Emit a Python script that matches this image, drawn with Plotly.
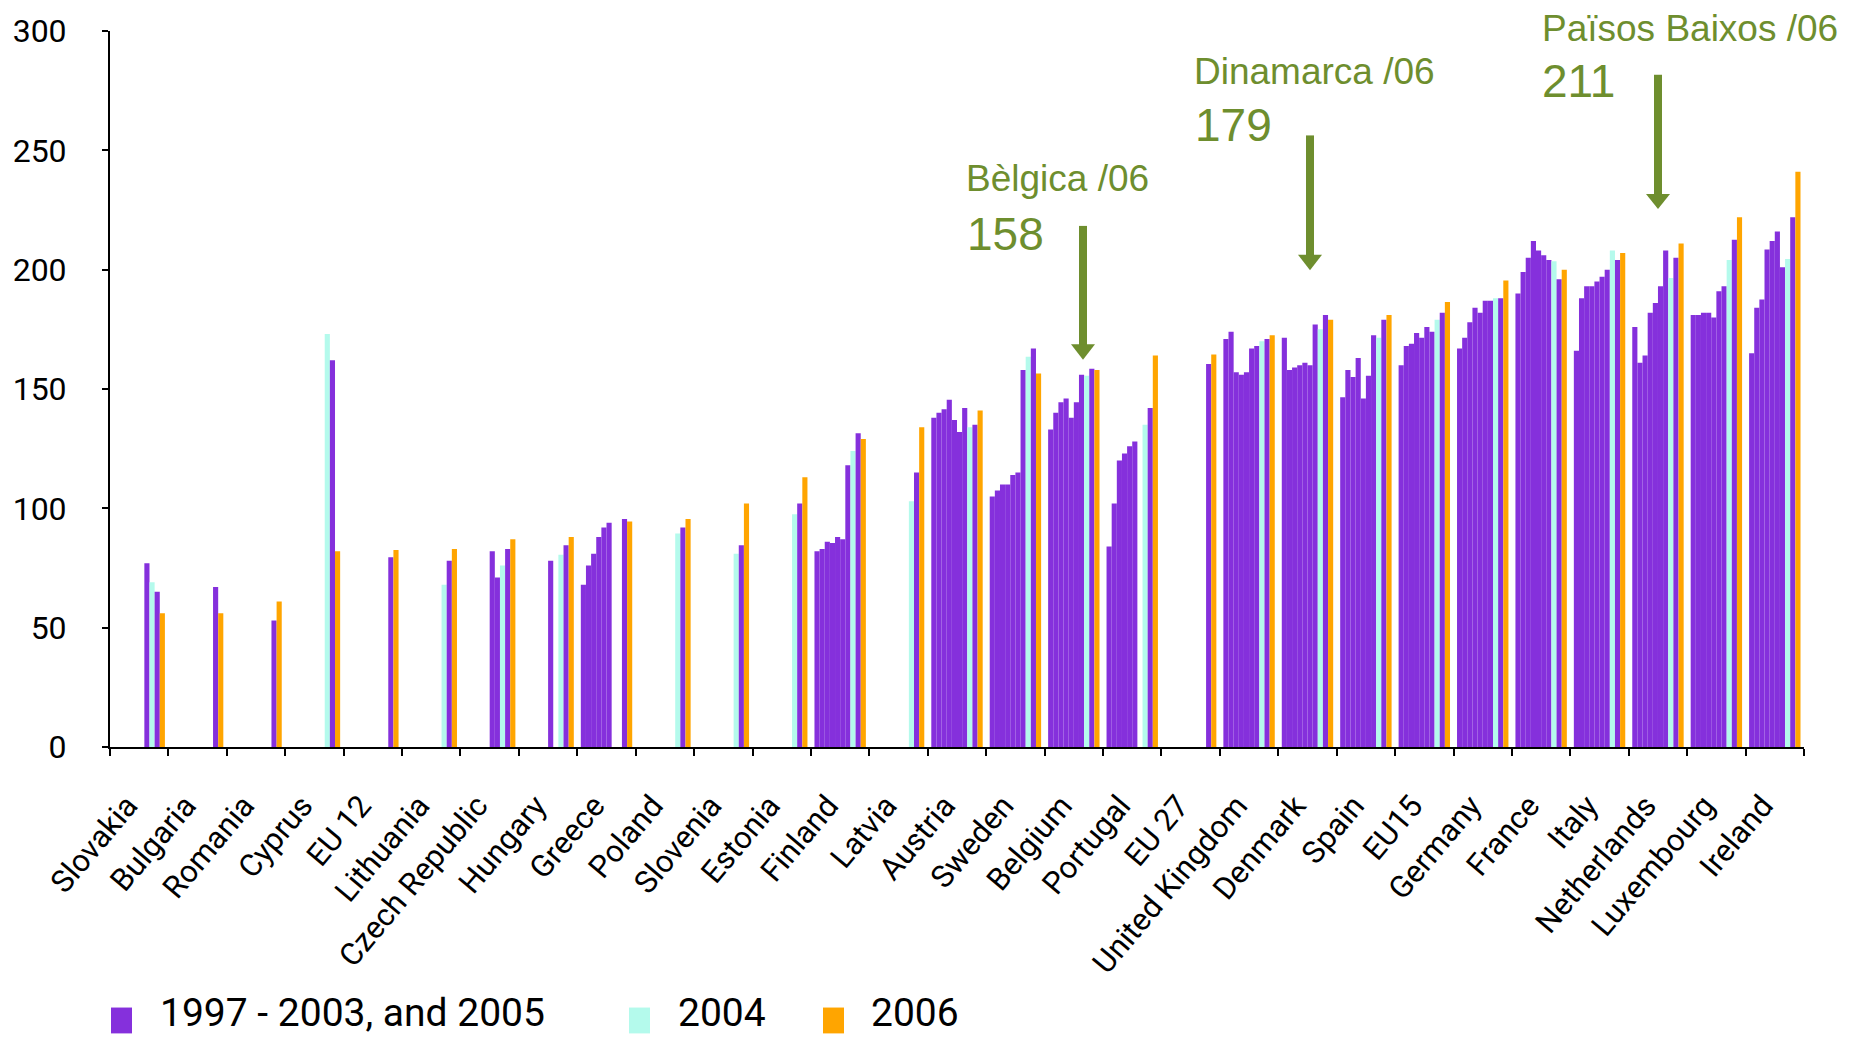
import plotly.graph_objects as go

countries = ["Slovakia", "Bulgaria", "Romania", "Cyprus", "EU 12", "Lithuania",
             "Czech Republic", "Hungary", "Greece", "Poland", "Slovenia", "Estonia",
             "Finland", "Latvia", "Austria", "Sweden", "Belgium", "Portugal", "EU 27",
             "United Kingdom", "Denmark", "Spain", "EU15", "Germany", "France", "Italy",
             "Netherlands", "Luxembourg", "Ireland"]

N = None
y1997 = [N, N, N, N, N, N, N, N, 68, N, N, N, 82, N, 138, 105, 133, 84, N, 171, 171.5, 146.5, 160, 167, 190, 166, 176, 181, 165]
y1998 = [N, N, N, N, N, N, N, N, 76, N, N, N, 83, N, 140, 107.5, 140, 102, N, 174, 158, 158, 168, 171.5, 199, 188, 161, 181, 184]
y1999 = [N, N, N, N, N, N, N, N, 81, N, N, N, 86, N, 141.5, 110, 144.5, 120, N, 157, 159, 155, 169, 178, 205, 193, 164, 182, 187.5]
y2000 = [N, N, N, N, N, N, N, N, 88, N, N, N, 85.5, N, 145.5, 110, 146, 123, N, 156, 160, 163, 173.5, 184, 212, 193, 182, 182, 208.5]
y2001 = [N, N, N, N, N, N, N, N, 92, N, N, N, 88, N, 137, 114, 138, 126, N, 157, 161, 146, 171.5, 182, 208, 195, 186, 180, 212]
y2002 = [N, N, N, N, N, N, 82, 78, 94, N, N, N, 87, N, 132, 115, 144.5, 128, N, 167, 160, 155.5, 176, 187, 206, 197, 193, 191, 216]
y2003 = [77, N, N, N, N, N, 71, N, N, N, N, N, 118, N, 142, 158, 156, N, N, 168, 177, 172.5, 174, 187, 204, 200, 208, 193, 201]
y2004 = [69, N, N, 173, N, 68, 76, 80.5, N, 89.5, 81, 97.5, 124, 103, 134, 163.5, 155.5, 135, N, 170, 175, 171.5, 179, 188, 203.5, 208, 196.5, 204, 204.5]
y2005 = [65, 67, 53, 162, 79.5, 78, 83, 84.5, 95.5, 92, 84.5, 102, 131.5, 115, 135, 167, 158.5, 142, 160.5, 171, 181, 179, 182, 188, 196, 204, 205, 212.5, 222]
y2006 = [56, 56, 61, 82, 82.5, 83, 87, 88, 94.5, 95.5, 102, 113, 129, 134, 141, 156.5, 158, 164, 164.5, 172.5, 179, 181, 186.5, 195.5, 200, 207, 211, 222, 241]

years = ["1997", "1998", "1999", "2000", "2001", "2002", "2003", "2004", "2005", "2006"]
series = [y1997, y1998, y1999, y2000, y2001, y2002, y2003, y2004, y2005, y2006]

legend_labels = ["1997 - 2003, and 2005", "2004", "2006"]
PURPLE = "#8530DC"
CYAN = "#B4FAEC"
ORANGE = "#FFA500"
GREEN = "#6E8E2E"

def year_color(y):
    if y == "2004":
        return CYAN
    if y == "2006":
        return ORANGE
    return PURPLE

fig = go.Figure()
for yr, vals in zip(years, series):
    fig.add_trace(go.Bar(x=countries, y=vals, name=yr,
                         marker=dict(color=year_color(yr), line=dict(width=0)),
                         showlegend=False))

# plot-area geometry (pixels) for paper-coordinate decorations
L, R, T, B = 110, 1804, 27, 747
W, H = R - L, B - T
def px(x):
    return (x - L) / W
def py(y):
    return (B - y) / H

shapes = []
annotations = []

# arrows (shaft + head)
arrows = [(1083, 223, 342, 357.5), (1310, 132, 252, 267.5), (1658, 71, 191, 206)]
for ax_, top, head_top, tip in arrows:
    shapes.append(dict(type="line", xref="paper", yref="paper",
                       x0=px(ax_), x1=px(ax_), y0=py(top), y1=py(head_top + 1),
                       line=dict(color=GREEN, width=8)))
    shapes.append(dict(type="path", xref="paper", yref="paper",
                       path="M {a},{b} L {c},{b} L {d},{e} Z".format(
                           a=px(ax_ - 12), b=py(head_top), c=px(ax_ + 12),
                           d=px(ax_), e=py(tip)),
                       fillcolor=GREEN, line=dict(width=0)))

labels = [("Bèlgica /06", 964, 175, 37), ("158", 965, 231, 46),
          ("Dinamarca /06", 1192, 68, 37), ("179", 1193, 122, 46),
          ("Països Baixos /06", 1540, 24, 37), ("211", 1540, 77, 46)]
for txt, x, y, s in labels:
    annotations.append(dict(text=txt, xref="paper", yref="paper", x=px(x), y=py(y),
                            xanchor="left", yanchor="middle", showarrow=False,
                            font=dict(family="Liberation Sans, Arial", size=s, color=GREEN)))

# legend drawn as swatches + text
leg = [(legend_labels[0], PURPLE, 111, 158), (legend_labels[1], CYAN, 629, 676),
       (legend_labels[2], ORANGE, 823, 869)]
for txt, col, sx, tx in leg:
    shapes.append(dict(type="rect", xref="paper", yref="paper",
                       x0=px(sx), x1=px(sx + 21), y0=py(1035), y1=py(1009),
                       fillcolor=col, line=dict(width=0)))
    annotations.append(dict(text=txt, xref="paper", yref="paper", x=px(tx), y=py(1040),
                            xanchor="left", yanchor="bottom", showarrow=False,
                            font=dict(family="Roboto", size=39, color="black")))

fig.update_layout(
    width=1860, height=1041,
    margin=dict(l=L, r=1860 - R, t=T, b=1041 - B),
    plot_bgcolor="white", paper_bgcolor="white",
    barmode="group", bargap=0.12, bargroupgap=0,
    showlegend=False,
    shapes=shapes, annotations=annotations,
    xaxis=dict(type="category", showline=True, linecolor="black", linewidth=2,
               ticks="outside", tickson="boundaries", ticklen=7, tickwidth=2,
               tickcolor="black", tickangle=-50, showgrid=False,
               tickfont=dict(family="Roboto", size=31, color="black"),
               ticklabelstandoff=26, ticklabelshift=-12),
    yaxis=dict(range=[0, 300], tickmode="array", tickvals=[0, 50, 100, 150, 200, 250, 300],
               showline=True, linecolor="black", linewidth=2, ticks="outside",
               ticklen=6, tickwidth=2, tickcolor="black", showgrid=False, zeroline=False,
               tickfont=dict(family="Roboto", size=32, color="black"),
               ticklabelstandoff=29),
)

fig.write_html("out.html", config={"displayModeBar": False},
               post_script="document.body.style.margin='0';document.body.style.overflow='hidden';")
